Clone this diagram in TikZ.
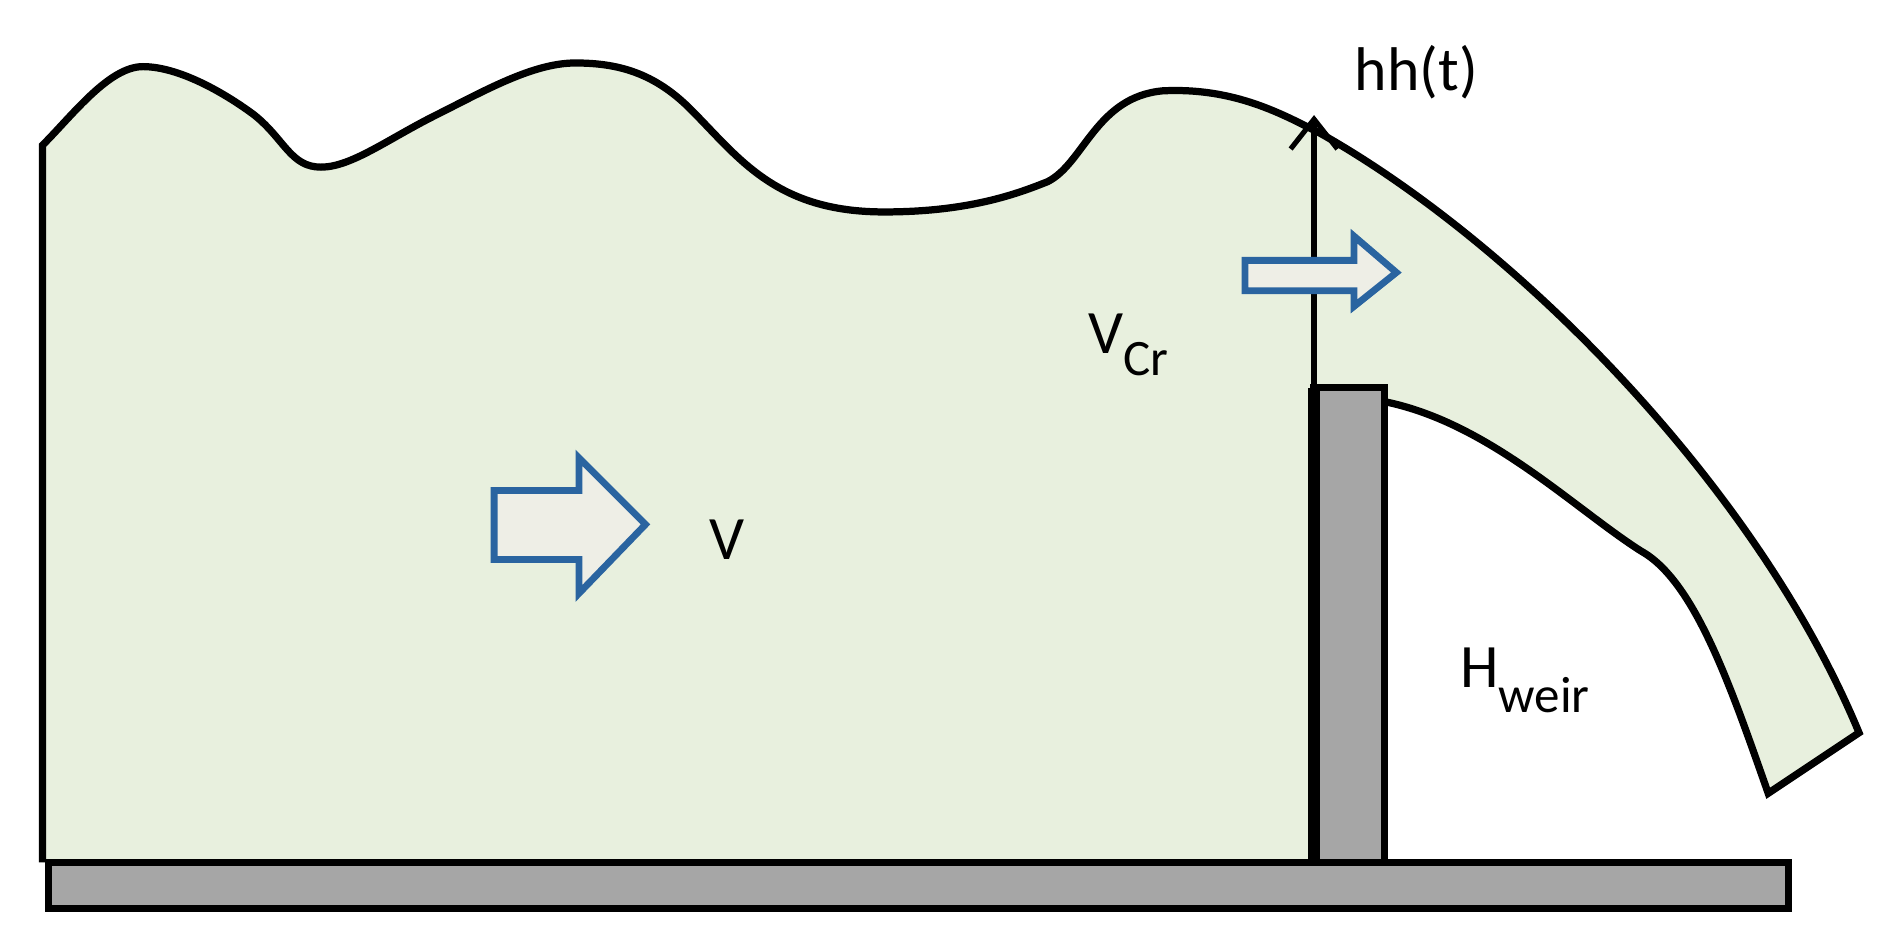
\documentclass[tikz,border=0pt]{standalone}
\usetikzlibrary{arrows.meta}
\usepackage{fontspec}
\setmainfont{Carlito}
\definecolor{water}{HTML}{E8F0DE}
\definecolor{plate}{HTML}{A6A6A6}
\definecolor{arrblue}{HTML}{2A64A0}
\definecolor{arrfill}{HTML}{EEEEE6}
\begin{document}
\begin{tikzpicture}[x=0.1mm,y=-0.1mm,
  lbl/.style={font=\fontsize{14.5}{18}\selectfont,inner sep=0pt},
  blockarrow/.style={draw=arrblue,fill=arrfill,line width=1.6pt,line join=miter}]
\useasboundingbox (0,0) rectangle (1568,784);
% water
\fill[water] (35,120) .. controls (60,95) and (90,55) .. (118,55)
  .. controls (150,55) and (190,80) .. (210,95)
  .. controls (235,115) and (240,138) .. (265,138)
  .. controls (290,138) and (320,115) .. (360,95)
  .. controls (400,75) and (440,52) .. (475,52)
  .. controls (510,52) and (540,60) .. (570,90)
  .. controls (610,130) and (640,175) .. (730,175)
  .. controls (800,175) and (840,160) .. (865,150)
  .. controls (895,135) and (905,80) .. (960,75)
  .. controls (1020,72) and (1060,95) .. (1090,110)
  .. controls (1250,200) and (1450,400) .. (1535,605)
  -- (1460,655)
  .. controls (1430,570) and (1400,480) .. (1355,455)
  .. controls (1300,420) and (1230,350) .. (1145,332)
  -- (1085,332) -- (1085,712) -- (35,712) -- cycle;
\draw[line width=1.7pt] (35,712) -- (35,120) .. controls (60,95) and (90,55) .. (118,55)
  .. controls (150,55) and (190,80) .. (210,95)
  .. controls (235,115) and (240,138) .. (265,138)
  .. controls (290,138) and (320,115) .. (360,95)
  .. controls (400,75) and (440,52) .. (475,52)
  .. controls (510,52) and (540,60) .. (570,90)
  .. controls (610,130) and (640,175) .. (730,175)
  .. controls (800,175) and (840,160) .. (865,150)
  .. controls (895,135) and (905,80) .. (960,75)
  .. controls (1020,72) and (1060,95) .. (1090,110)
  .. controls (1250,200) and (1450,400) .. (1535,605)
  -- (1460,655)
  .. controls (1430,570) and (1400,480) .. (1355,455)
  .. controls (1300,420) and (1230,350) .. (1145,332);
% plate and weir
\draw[fill=plate,line width=1.7pt] (40,712) rectangle (1477,750);
\draw[fill=plate,line width=1.7pt] (1085,320) rectangle (1143,712);
\draw[line width=3pt] (1085,320) -- (1085,712);
% hh(t) arrow
\coordinate (hbot) at (1085,712);
\coordinate (htop) at (1085,95);
\draw[line width=1.2pt,-{Straight Barb[length=7pt,width=11pt]}] (hbot) -- (htop);
\node[lbl,anchor=base west] (hh) at (1118,75) {hh(t)};
% block arrows
\draw[blockarrow] (408,405) -- (478,405) -- (478,378) -- (533,433) -- (478,490) -- (478,462) -- (408,462) -- cycle;
\draw[blockarrow] (1028,215) -- (1118,215) -- (1118,195) -- (1153,225) -- (1118,253) -- (1118,240) -- (1028,240) -- cycle;
% labels
\node[lbl,anchor=base west] (v) at (585,462) {V};
\node[lbl,anchor=base west] (vcr) at (898,292) {V\raisebox{-0.35em}{\fontsize{12}{14}\selectfont Cr}};
\node[lbl,anchor=base west] (hw) at (1205,568) {H\raisebox{-0.4em}{\fontsize{12}{14}\selectfont weir}};
\end{tikzpicture}
\end{document}
